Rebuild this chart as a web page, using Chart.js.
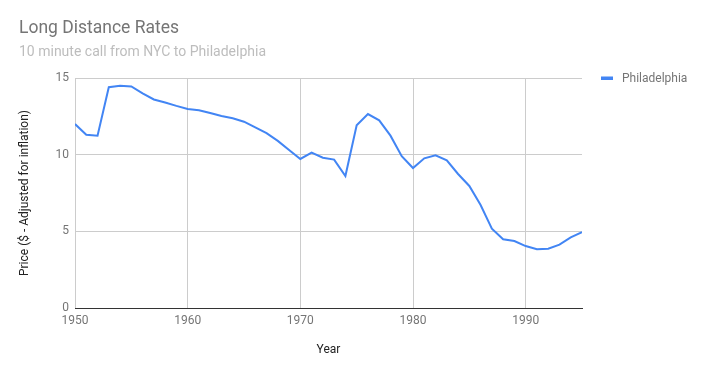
<!DOCTYPE html>
<html>
<head>
<meta charset="utf-8">
<script src="https://cdn.jsdelivr.net/npm/chart.js@4"></script>
<style>
  html, body { margin: 0; padding: 0; background: #ffffff; }
  #wrap { width: 705px; height: 375px; position: relative; }
</style>
</head>
<body>
<div id="wrap"><canvas id="c" width="705" height="375"></canvas></div>
<script>
const chartTitle = "Long Distance Rates";
const chartSubtitle = "10 minute call from NYC to Philadelphia";
const seriesLabel = "Philadelphia";
const xAxisTitle = "Year";
const yAxisTitle = "Price ($ - Adjusted for inflation)";
const years = [1950,1951,1952,1953,1954,1955,1956,1957,1958,1959,
               1960,1961,1962,1963,1964,1965,1966,1967,1968,1969,
               1970,1971,1972,1973,1974,1975,1976,1977,1978,1979,
               1980,1981,1982,1983,1984,1985,1986,1987,1988,1989,
               1990,1991,1992,1993,1994,1995];
const prices = [12.0,11.3,11.24,14.4,14.5,14.45,14.0,13.6,13.4,13.18,
                12.98,12.9,12.72,12.52,12.37,12.15,11.78,11.4,10.9,10.3,
                9.72,10.13,9.8,9.68,8.61,11.92,12.65,12.24,11.24,9.9,
                9.13,9.76,9.96,9.63,8.74,7.96,6.72,5.17,4.48,4.37,
                4.04,3.83,3.87,4.13,4.61,4.94];
const yTicks = [0, 5, 10, 15];
const xTicks = [1950, 1960, 1970, 1980, 1990];

const FONT = "Roboto, 'Noto Sans', Arial, sans-serif";
const LINE_COLOR = "#4285F4";

const headerPlugin = {
  id: 'header',
  afterDraw(chart) {
    const ctx = chart.ctx;
    ctx.save();
    ctx.textBaseline = 'alphabetic';
    ctx.textAlign = 'left';
    ctx.fillStyle = '#757575';
    ctx.font = "17.5px " + FONT;
    ctx.fillText(chartTitle, 19, 33);
    ctx.fillStyle = '#bdbdbd';
    ctx.font = "14px " + FONT;
    ctx.fillText(chartSubtitle, 19, 56);
    // legend
    const ds = chart.data.datasets[0];
    ctx.fillStyle = ds.borderColor;
    ctx.fillRect(601, 76.5, 12, 3.5);
    ctx.fillStyle = '#757575';
    ctx.font = "12px " + FONT;
    ctx.textBaseline = 'middle';
    ctx.fillText(ds.label, 622, 78.5);
    ctx.restore();
  }
};

new Chart(document.getElementById('c'), {
  type: 'line',
  data: {
    datasets: [{
      label: seriesLabel,
      data: years.map((y, i) => ({ x: y, y: prices[i] })),
      borderColor: LINE_COLOR,
      backgroundColor: LINE_COLOR,
      borderWidth: 2,
      pointRadius: 0,
      tension: 0,
      fill: false
    }]
  },
  options: {
    responsive: false,
    animation: false,
    layout: { padding: { left: 0, right: 123, top: 78, bottom: 0 } },
    plugins: {
      legend: { display: false },
      title: { display: false },
      tooltip: { enabled: false }
    },
    scales: {
      x: {
        type: 'linear',
        min: 1950,
        max: 1995,
        afterBuildTicks: (scale) => { scale.ticks = xTicks.map(v => ({ value: v })); },
        afterFit: (scale) => { scale.height = 67; },
        ticks: {
          color: '#757575',
          font: { family: FONT, size: 12 },
          padding: 6,
          maxRotation: 0,
          callback: (v) => String(v)
        },
        grid: { color: '#cccccc', drawTicks: false, lineWidth: 1 },
        border: { display: true, color: '#333333', width: 1 },
        title: {
          display: true,
          text: xAxisTitle,
          color: '#222222',
          font: { family: FONT, size: 12 },
          padding: { top: 0, bottom: 18 }
        }
      },
      y: {
        min: 0,
        max: 15,
        afterBuildTicks: (scale) => { scale.ticks = yTicks.map(v => ({ value: v })); },
        afterFit: (scale) => { scale.width = 75; },
        ticks: {
          color: '#757575',
          font: { family: FONT, size: 12 },
          padding: 6
        },
        grid: { color: '#cccccc', drawTicks: false, lineWidth: 1 },
        border: { display: false },
        title: {
          display: true,
          text: yAxisTitle,
          color: '#222222',
          font: { family: FONT, size: 12 },
          padding: { top: 18, bottom: 0 }
        }
      }
    }
  },
  plugins: [headerPlugin]
});
</script>
</body>
</html>
